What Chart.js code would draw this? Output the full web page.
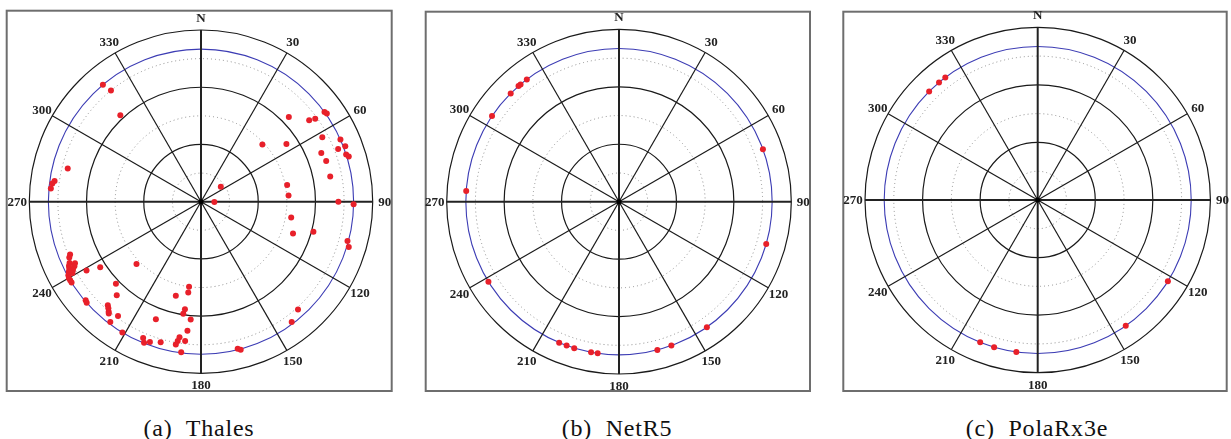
<!DOCTYPE html>
<html>
<head>
<meta charset="utf-8">
<script src="https://cdn.jsdelivr.net/npm/chart.js@4.4.1/dist/chart.umd.min.js"></script>
<style>
  html,body{margin:0;padding:0;background:#fff;}
  #wrap{position:relative;width:1231px;height:439px;overflow:hidden;background:#fff;}
  canvas{position:absolute;top:0;}
  .cap{position:absolute;top:416px;width:300px;margin-left:-150px;text-align:center;
       font-family:"Liberation Serif","Times New Roman","DejaVu Serif",serif;font-size:24px;line-height:24px;
       letter-spacing:0.8px;white-space:pre;color:#111;}
</style>
</head>
<body>
<div id="wrap">
  <canvas id="c0" width="410" height="400" style="left:0px"></canvas>
  <canvas id="c1" width="410" height="400" style="left:415px"></canvas>
  <canvas id="c2" width="401" height="400" style="left:830px"></canvas>
</div>
<script>
// ---------------- data ----------------
const receivers = ['(a)  Thales', '(b)  NetR5', '(c)  PolaRx3e'];
const azimuthLabels = ['N','30','60','90','120','150','180','210','240','270','300','330'];
const solidElevations = [0, 30, 60];
const dottedElevations = [15, 45, 75];
const maskElevation = 10;

// Thales: azimuth (deg) / elevation (deg)
const thalesAz = [54,55,46,53,54,62,66,47,56,69,69,68,72,73,72,79,79,86,90,91,100,109,105,105,107,53,91,138,143,165,166,
  320,321,317,284,278,277,275,
  248,247,245,244,243,242,241,240,239,238,244,243,242,241,
  239,237,226,226,222,229.5,228.5,222,221,220,219.5,216,217,211,
  201,203,202,200,196,195,188,188,188.5,189,185,186,189,189.5,190,186.5,187.5];
const thalesEl = [10,9.5,26,19,16,18,10,46,36,9,13,22,10,9,21,21,44,44,18,10,42,39,29,10.5,9,77,83,14,11,9.6,10.5,
  10,15,28,18,12.5,11.5,11,
  16,15,14,13,12.5,11.5,10.5,10,10,10,16.5,15.5,14,13,
  20,27,43,28,24,10.5,10,17,16,14.7,14,16,11,10,
  24,12.4,10.3,11.7,13.3,39,45,42,33,30.6,28,22,18,16,14,16.5,10.4];

// NetR5
const netr5Az = [323,320,319,315,304,274,70,106,238.5,145,160,165.5,203,200,197,190.5,188];
const netr5El = [10,10,10,10,10,10,10,10,10,10,10,10,10,10,10,10,10];

// PolaRx3e
const polarxAz = [323,320,315,122,145,188,196.5,202];
const polarxEl = [10,10,10,10,10,10,10,10];

// ---------------- layout (positions / styles) ----------------
const panels = [
  {canvas:'c0', left:0,   width:410, cx:201,   cy:201.7, R:171.7, frame:[-194.3,-191,190.7,189.3], capX:199, az:thalesAz, el:thalesEl},
  {canvas:'c1', left:415, width:410, cx:619,   cy:201.7, R:172.3, frame:[-193.3,-190,191,189.3],   capX:617, az:netr5Az,  el:netr5El},
  {canvas:'c2', left:830, width:401, cx:1037.7,cy:200,   R:172.7, frame:[-194.4,-188.3,189,191],   capX:1037,az:polarxAz, el:polarxEl}
];

const skyGrid = {
  id: 'skyGrid',
  beforeDatasetsDraw(chart, args, opts) {
    const ctx = chart.ctx;
    const xs = chart.scales.x, ys = chart.scales.y;
    const cx = xs.getPixelForValue(0), cy = ys.getPixelForValue(0);
    const rp = e => xs.getPixelForValue((90 - e) / 90) - cx;
    const R = rp(0);
    ctx.save();
    // frame
    const f = opts.frame;
    ctx.strokeStyle = '#6e6e6e';
    ctx.lineWidth = 2;
    ctx.strokeRect(cx + f[0], cy + f[1], f[2] - f[0], f[3] - f[1]);
    // dotted circles
    ctx.setLineDash([1, 3]);
    ctx.strokeStyle = '#8c8c8c';
    ctx.lineWidth = 1;
    dottedElevations.forEach(e => { ctx.beginPath(); ctx.arc(cx, cy, rp(e), 0, Math.PI * 2); ctx.stroke(); });
    ctx.setLineDash([]);
    // mask circle
    ctx.strokeStyle = '#3c3cb4';
    ctx.lineWidth = 1.1;
    ctx.beginPath(); ctx.arc(cx, cy, rp(maskElevation), 0, Math.PI * 2); ctx.stroke();
    // solid circles
    ctx.strokeStyle = '#1a1a1a';
    ctx.lineWidth = 1.2;
    solidElevations.forEach(e => { ctx.beginPath(); ctx.arc(cx, cy, rp(e), 0, Math.PI * 2); ctx.stroke(); });
    // radial lines
    azimuthLabels.forEach((lab, i) => {
      const a = i * 30 * Math.PI / 180;
      ctx.lineWidth = (i % 3 === 0) ? 2 : 1.2;
      ctx.strokeStyle = (i % 3 === 0) ? '#222' : '#1a1a1a';
      ctx.beginPath();
      ctx.moveTo(cx, cy);
      ctx.lineTo(cx + R * Math.sin(a), cy - R * Math.cos(a));
      ctx.stroke();
    });
    // centre dot
    ctx.fillStyle = '#000';
    ctx.beginPath(); ctx.arc(cx, cy, 2.5, 0, Math.PI * 2); ctx.fill();
    // labels
    ctx.fillStyle = '#222';
    ctx.font = 'bold 13px "Liberation Serif", "Times New Roman", "DejaVu Serif", serif';
    ctx.textAlign = 'center';
    ctx.textBaseline = 'middle';
    azimuthLabels.forEach((lab, i) => {
      const a = i * 30 * Math.PI / 180;
      const rl = R + 12;
      ctx.fillText(lab, cx + rl * Math.sin(a), cy - rl * Math.cos(a) + 0.5);
    });
    ctx.restore();
  }
};

panels.forEach((p, k) => {
  const pts = p.az.map((a, i) => {
    const r = (90 - p.el[i]) / 90;
    const t = a * Math.PI / 180;
    return {x: r * Math.sin(t), y: r * Math.cos(t)};
  });
  const H = 400;
  const padL = p.cx - p.left - p.R;
  const padR = p.left + p.width - p.cx - p.R;
  const padT = p.cy - p.R;
  const padB = H - p.cy - p.R;
  new Chart(document.getElementById(p.canvas), {
    type: 'scatter',
    data: {
      datasets: [{
        label: receivers[k],
        data: pts,
        pointRadius: 3,
        pointBackgroundColor: '#e8202a',
        pointBorderWidth: 0,
        pointHoverRadius: 3
      }]
    },
    options: {
      responsive: false,
      animation: false,
      events: [],
      layout: {padding: {left: padL, right: padR, top: padT, bottom: padB}},
      scales: {
        x: {type: 'linear', min: -1, max: 1, display: false},
        y: {type: 'linear', min: -1, max: 1, display: false}
      },
      plugins: {
        legend: {display: false},
        tooltip: {enabled: false},
        skyGrid: {frame: p.frame}
      }
    },
    plugins: [skyGrid]
  });
  const cap = document.createElement('div');
  cap.className = 'cap';
  cap.style.left = p.capX + 'px';
  cap.textContent = receivers[k];
  document.getElementById('wrap').appendChild(cap);
});
</script>
</body>
</html>
